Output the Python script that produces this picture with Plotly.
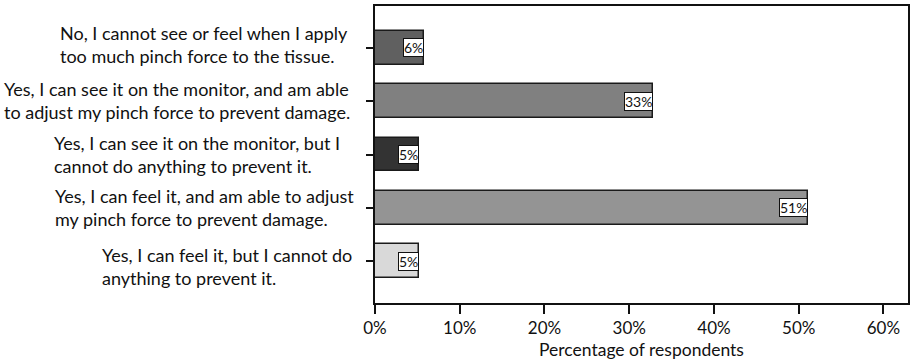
import plotly.graph_objects as go

# Survey responses (top to bottom); each answer is set on two lines
categories = [
    "No, I cannot see or feel when I apply<br>too much pinch force to the tissue.",
    "Yes, I can see it on the monitor, and am able<br>to adjust my pinch force to prevent damage.",
    "Yes, I can see it on the monitor, but I<br>cannot do anything to prevent it.",
    "Yes, I can feel it, and am able to adjust<br>my pinch force to prevent damage.",
    "Yes, I can feel it, but I cannot do<br>anything to prevent it.",
]
percentages = [5.8, 32.8, 5.2, 51.1, 5.2]
tick_values = [0, 10, 20, 30, 40, 50, 60]

bar_colors = ["#606060", "#808080", "#333333", "#949494", "#d9d9d9"]

# left edge (px from the page's left) of each answer text, and a vertical nudge
label_left = [58, 2, 52, 53, 100]
label_nudge = [3, 1, 0, 0, -5]
PLOT_LEFT = 375
FONT = "Lato"

positions = list(range(len(categories)))

fig = go.Figure(
    go.Bar(
        x=percentages,
        y=positions,
        orientation="h",
        width=0.636,
        marker=dict(color=bar_colors, line=dict(color="#1a1a1a", width=1.5)),
        hoverinfo="skip",
    )
)

annotations = []
for pos, val in zip(positions, percentages):
    annotations.append(dict(
        x=val, y=pos, xref="x", yref="y",
        text=f"{val:.0f}%", showarrow=False,
        xanchor="right", yanchor="middle",
        bgcolor="white", bordercolor="#111", borderwidth=1, borderpad=0,
        font=dict(family=FONT, size=14, color="#111"),
    ))

for pos, text, left, nudge in zip(positions, categories, label_left, label_nudge):
    annotations.append(dict(
        x=0, y=pos, xref="paper", yref="y",
        text=text, showarrow=False,
        xanchor="left", yanchor="middle", align="left",
        xshift=left - PLOT_LEFT, yshift=nudge,
        font=dict(family=FONT, size=18, color="#111"),
    ))

fig.update_layout(
    width=914, height=364,
    margin=dict(l=375, r=4, t=5, b=61),
    paper_bgcolor="white", plot_bgcolor="white",
    showlegend=False,
    bargap=0,
    annotations=annotations,
    font=dict(family=FONT, color="#111"),
)
fig.update_xaxes(
    range=[0, 62.9],
    tickvals=tick_values,
    ticktext=[f"{t}%" for t in tick_values],
    ticks="outside", ticklen=9, tickwidth=1.5, tickcolor="#111",
    showline=True, linecolor="#111", linewidth=1.5, mirror=True,
    showgrid=False, zeroline=False,
    tickfont=dict(family=FONT, size=17, color="#111"),
    title=dict(text="Percentage of respondents", standoff=7,
               font=dict(family=FONT, size=17.5, color="#111")),
)
fig.update_yaxes(
    range=[4.785, -0.785],
    tickvals=positions,
    showticklabels=False,
    ticks="outside", ticklen=7, tickwidth=1.5, tickcolor="#111",
    showline=True, linecolor="#111", linewidth=1.5, mirror=True,
    showgrid=False, zeroline=False,
)

fig.write_html("out.html")
